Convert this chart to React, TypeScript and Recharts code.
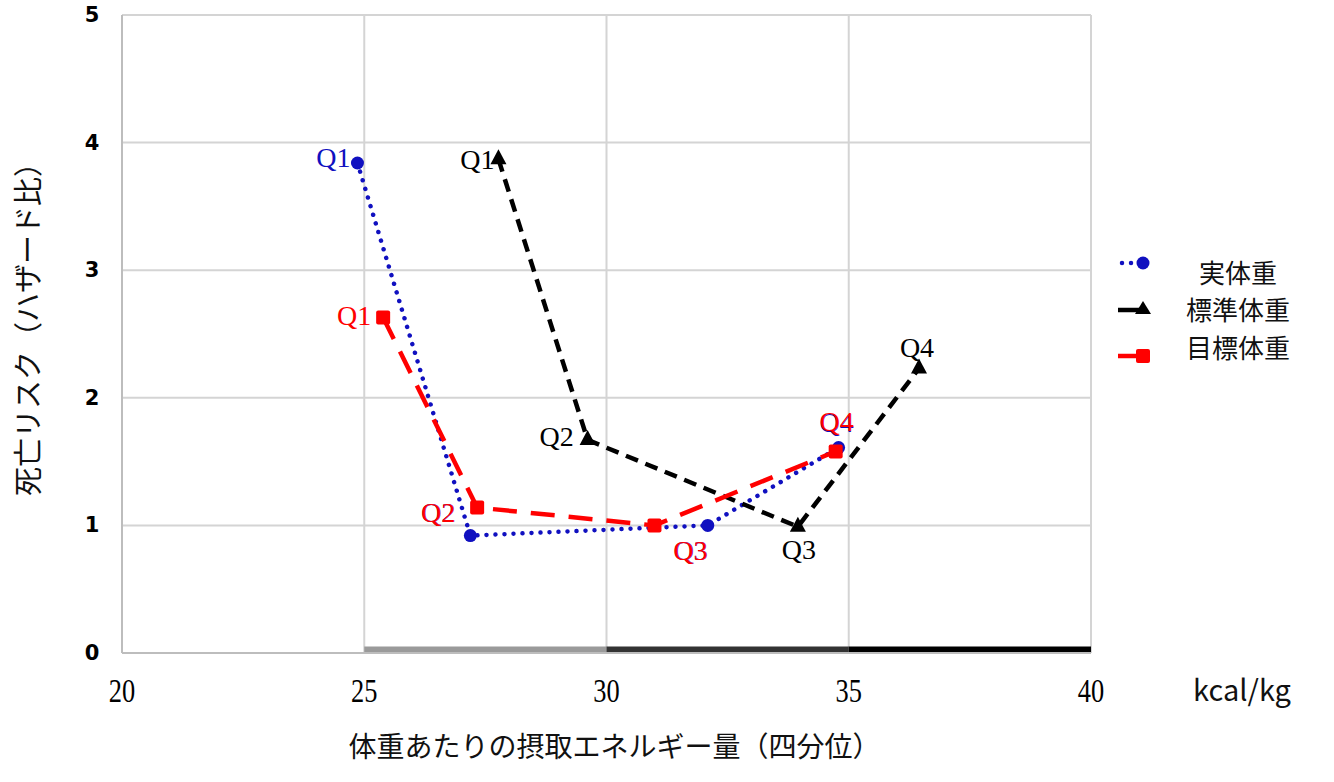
import React from 'react';
import {
  ScatterChart,
  Scatter,
  XAxis,
  YAxis,
  CartesianGrid,
  ReferenceArea,
  Legend,
  Label,
} from 'recharts';

// ---- data ----
const quartiles = ['Q1', 'Q2', 'Q3', 'Q4'];
const actualX = [24.86, 27.19, 32.09, 34.79];
const actualY = [3.84, 0.92, 1.0, 1.61];
const standardX = [27.77, 29.61, 33.95, 36.45];
const standardY = [3.87, 1.67, 0.99, 2.23];
const targetX = [25.39, 27.33, 30.99, 34.73];
const targetY = [2.63, 1.14, 1.0, 1.58];
const seriesNames = ['実体重', '標準体重', '目標体重'];
const xTicks = [20, 25, 30, 35, 40];
const yTicks = [0, 1, 2, 3, 4, 5];
const bandStart = [25, 30, 35];
const bandEnd = [30, 35, 40];

// ---- styles ----
const BLUE = '#1010c0';
const RED = '#ff0000';
const BLACK = '#000000';
const bandColors = ['#9a9a9a', '#333333', '#000000'];
const CJK = '"Noto Sans CJK JP", "Noto Sans", sans-serif';
const SERIF = '"Liberation Serif", "Times New Roman", serif';

// label offsets (dx, dy) relative to each marker, per series
const actualLabelOffsets = [[-24, -6], [-32, -23], [-17, 25], [-2, -25]];
const standardLabelOffsets = [[-21, 0], [-31, -3], [1, 23], [-2, -21]];
const targetLabelOffsets = [[-29, -2], [-39, 5], [36, 25], [1, -30]];

const build = (xs: number[], ys: number[]) =>
  xs.map((x, i) => ({ x, y: ys[i], q: quartiles[i] }));

const actualData = build(actualX, actualY);
const standardData = build(standardX, standardY);
const targetData = build(targetX, targetY);

const CircleShape = (p: any) => <circle cx={p.cx} cy={p.cy} r={6.5} fill={BLUE} />;
const TriangleShape = (p: any) => (
  <polygon
    points={`${p.cx},${p.cy - 10} ${p.cx - 8},${p.cy + 5} ${p.cx + 8},${p.cy + 5}`}
    fill={BLACK}
  />
);
const SquareShape = (p: any) => (
  <rect x={p.cx - 7} y={p.cy - 7} width={14} height={14} rx={2} fill={RED} />
);

const makeLabelShape = (color: string, offsets: number[][]) => (p: any) => {
  const q = p.payload?.q;
  const i = quartiles.indexOf(q);
  const [dx, dy] = offsets[i] || [0, 0];
  return (
    <text
      x={p.cx + dx}
      y={p.cy + dy}
      fill={color}
      textAnchor="middle"
      dominantBaseline="central"
      fontFamily={SERIF}
      fontSize={28}
    >
      {q}
    </text>
  );
};

const XTick = (p: any) => (
  <g transform={`translate(${p.x},${p.y + 29}) scale(0.8,1)`}>
    <text
      x={0}
      y={0}
      textAnchor="middle"
      dominantBaseline="central"
      fontFamily={SERIF}
      fontSize={33}
      fill="#000"
    >
      {p.payload.value}
    </text>
  </g>
);

const YTick = (p: any) => (
  <text
    x={p.x}
    y={p.y}
    dx={-22}
    textAnchor="middle"
    dominantBaseline="central"
    fontFamily='"DejaVu Sans", sans-serif'
    fontWeight="bold"
    fontSize={21}
    fill="#000"
  >
    {p.payload.value}
  </text>
);

const XTitle = (p: any) => {
  const vb = p.viewBox;
  return (
    <g>
      <text
        x={vb.x + vb.width / 2 + 8}
        y={vb.y + 92}
        textAnchor="middle"
        dominantBaseline="central"
        fontFamily={CJK}
        fontSize={28}
        fill="#111"
      >
        体重あたりの摂取エネルギー量（四分位）
      </text>
      <text
        x={vb.x + vb.width + 151}
        y={vb.y + 35}
        textAnchor="middle"
        dominantBaseline="central"
        fontFamily={CJK}
        fontSize={29}
        fill="#111"
      >
        kcal/kg
      </text>
    </g>
  );
};

const YTitle = (p: any) => {
  const vb = p.viewBox;
  const cx = vb.x - 36;
  const cy = vb.y + vb.height / 2 - 12;
  return (
    <text
      x={cx}
      y={cy}
      transform={`rotate(-90 ${cx} ${cy})`}
      textAnchor="middle"
      dominantBaseline="central"
      fontFamily={CJK}
      fontSize={29}
      fill="#111"
    >
      死亡リスク（ハザード比）
    </text>
  );
};

const LegendContent = () => (
  <svg width={220} height={130}>
    {/* 実体重 */}
    <line x1={12} y1={23} x2={34} y2={23} stroke={BLUE} strokeWidth={4.5} strokeDasharray="0.01 9" strokeLinecap="round" />
    <circle cx={33} cy={23} r={6.5} fill={BLUE} />
    <text x={128} y={31} textAnchor="middle" dominantBaseline="central" fontFamily={CJK} fontSize={26} fill="#111">
      {seriesNames[0]}
    </text>
    {/* 標準体重 */}
    <line x1={8} y1={70} x2={34} y2={70} stroke={BLACK} strokeWidth={4.5} />
    <polygon points="33,61 25,74 41,74" fill={BLACK} />
    <text x={128} y={68} textAnchor="middle" dominantBaseline="central" fontFamily={CJK} fontSize={26} fill="#111">
      {seriesNames[1]}
    </text>
    {/* 目標体重 */}
    <line x1={8} y1={116} x2={34} y2={116} stroke={RED} strokeWidth={4.5} />
    <rect x={26} y={109} width={14} height={14} rx={2} fill={RED} />
    <text x={128} y={106} textAnchor="middle" dominantBaseline="central" fontFamily={CJK} fontSize={26} fill="#111">
      {seriesNames[2]}
    </text>
  </svg>
);

export default function App() {
  return (
    <div style={{ position: 'absolute', left: 0, top: 0, background: '#fff' }}>
      <ScatterChart
        width={1334}
        height={782}
        margin={{ top: 15, right: 243, bottom: 69, left: 62 }}
      >
        <CartesianGrid stroke="#d4d4d4" strokeWidth={2} />
        <XAxis
          type="number"
          dataKey="x"
          domain={[20, 40]}
          ticks={xTicks}
          interval={0}
          height={60}
          tickLine={false}
          axisLine={{ stroke: '#bdbdbd', strokeWidth: 2 }}
          tick={<XTick />}
        >
          <Label content={<XTitle />} />
        </XAxis>
        <YAxis
          type="number"
          dataKey="y"
          domain={[0, 5]}
          ticks={yTicks}
          interval={0}
          width={60}
          tickLine={false}
          axisLine={{ stroke: '#bdbdbd', strokeWidth: 2 }}
          tick={<YTick />}
        >
          <Label content={<YTitle />} />
        </YAxis>
        {bandStart.map((s, i) => (
          <ReferenceArea
            key={s}
            x1={s}
            x2={bandEnd[i]}
            y1={0}
            y2={0.05}
            fill={bandColors[i]}
            fillOpacity={1}
            stroke="none"
            ifOverflow="visible"
          />
        ))}
        <Legend
          layout="vertical"
          align="center"
          verticalAlign="middle"
          content={<LegendContent />}
          wrapperStyle={{ position: 'absolute', left: 1110, top: 240, width: 220 }}
        />
        <Scatter
          name={seriesNames[0]}
          data={actualData}
          fill={BLUE}
          isAnimationActive={false}
          line={{ stroke: BLUE, strokeWidth: 4.5, strokeDasharray: '0.01 9', strokeLinecap: 'round' }}
          lineJointType="linear"
          shape={<CircleShape />}
        />
        <Scatter
          name={seriesNames[1]}
          data={standardData}
          fill={BLACK}
          isAnimationActive={false}
          line={{ stroke: BLACK, strokeWidth: 4.5, strokeDasharray: '13 8' }}
          lineJointType="linear"
          shape={<TriangleShape />}
        />
        <Scatter
          name={seriesNames[2]}
          data={targetData}
          fill={RED}
          isAnimationActive={false}
          line={{ stroke: RED, strokeWidth: 4.5, strokeDasharray: '24 14' }}
          lineJointType="linear"
          shape={<SquareShape />}
        />
        <Scatter
          name="labels-standard"
          data={standardData}
          isAnimationActive={false}
          legendType="none"
          shape={makeLabelShape(BLACK, standardLabelOffsets)}
        />
        <Scatter
          name="labels-actual"
          data={actualData}
          isAnimationActive={false}
          legendType="none"
          shape={makeLabelShape(BLUE, actualLabelOffsets)}
        />
        <Scatter
          name="labels-target"
          data={targetData}
          isAnimationActive={false}
          legendType="none"
          shape={makeLabelShape(RED, targetLabelOffsets)}
        />
      </ScatterChart>
    </div>
  );
}
